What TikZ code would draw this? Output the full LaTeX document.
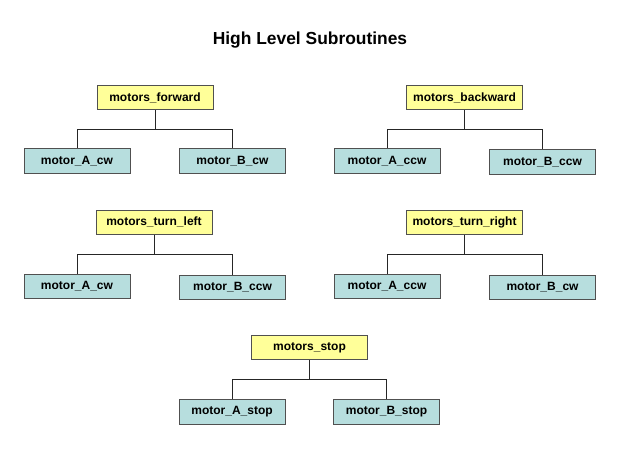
\documentclass[tikz,border=0pt]{standalone}
\usepackage{fontspec}
\setmainfont{Liberation Sans}
\usetikzlibrary{calc}
\definecolor{parentfill}{RGB}{255,255,153}
\definecolor{childfill}{RGB}{183,222,222}
\definecolor{boxline}{RGB}{80,80,80}
\tikzset{
  parentbox/.style={draw=boxline, fill=parentfill, line width=1pt, minimum width=116pt, minimum height=24pt, inner sep=0pt, font=\fontsize{12}{14}\selectfont\bfseries},
  childbox/.style={draw=boxline, fill=childfill, line width=1pt, minimum width=106pt, minimum height=24.5pt, inner sep=0pt, font=\fontsize{12}{14}\selectfont\bfseries},
  conn/.style={draw=black!85, line width=0.9pt},
}
\begin{document}
\begin{tikzpicture}[x=1pt,y=-1pt]
\useasboundingbox[fill=white] (0,0) rectangle (620,465);
\node[font=\fontsize{17.4}{20}\selectfont\bfseries] (title) at (310,40.5) {High Level Subroutines};

% group 1
\node[parentbox] (p1) at (155,98) {motors\_forward};
\node[childbox] (a1) at (77,161) {motor\_A\_cw};
\node[childbox] (b1) at (232.5,161) {motor\_B\_cw};
% group 2
\node[parentbox] (p2) at (464.5,98) {motors\_backward};
\node[childbox] (a2) at (387,161) {motor\_A\_ccw};
\node[childbox] (b2) at (542.5,162) {motor\_B\_ccw};
% group 3
\node[parentbox] (p3) at (154,222) {motors\_turn\_left};
\node[childbox] (a3) at (77,286.5) {motor\_A\_cw};
\node[childbox] (b3) at (232.5,287.5) {motor\_B\_ccw};
% group 4
\node[parentbox] (p4) at (464.5,222) {motors\_turn\_right};
\node[childbox] (a4) at (387,286.5) {motor\_A\_ccw};
\node[childbox] (b4) at (542.5,287.5) {motor\_B\_cw};
% group 5
\node[parentbox] (p5) at (309.5,347.5) {motors\_stop};
\node[childbox] (a5) at (232,412) {motor\_A\_stop};
\node[childbox] (b5) at (386.5,412) {motor\_B\_stop};

\foreach \i in {1,...,5}{
  \coordinate (j\i) at ($(p\i.south)!.5!(p\i.south|-a\i.north)$);
  \draw[conn] (p\i.south) -- (j\i);
  \draw[conn] (a\i.north) |- (j\i) -| (b\i.north);
}
\end{tikzpicture}
\end{document}
